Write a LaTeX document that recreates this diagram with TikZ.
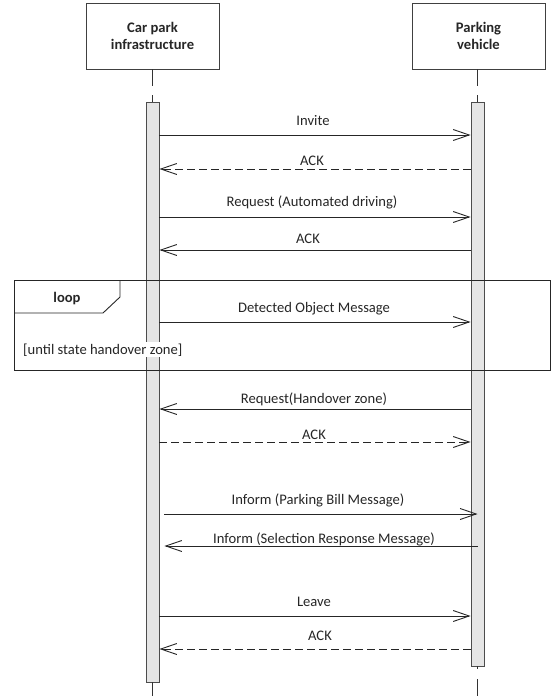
\documentclass[tikz,border=0pt]{standalone}
\usepackage{fontspec}
\setmainfont{Carlito}
\usetikzlibrary{arrows.meta,calc}
\begin{document}
\begin{tikzpicture}[x=1pt,y=-1pt,
  every node/.style={font=\fontsize{14.6}{17}\selectfont, text=black!85},
  lifebox/.style={draw=black!75, line width=0.9pt, minimum width=133pt,
    minimum height=66pt, align=center, inner sep=0pt,
    font=\fontsize{14.6}{17}\selectfont\bfseries},
  bar/.style={draw=black!70, fill=black!10, line width=0.9pt,
    minimum width=13pt, inner sep=0pt},
  lifeline/.style={draw=black!80, line width=0.9pt},
  msg/.style={draw=black!85, line width=0.9pt,
    -{Straight Barb[length=16pt,width=11pt]}},
  reply/.style={msg, dash pattern=on 8pt off 4pt},
  lbl/.style={anchor=base, inner sep=0pt},
  frame/.style={draw=black!85, line width=0.9pt},
]
\useasboundingbox (0,0) rectangle (551,696);

% participants
\node[lifebox] (park) at (152.5,36) {Car park\\infrastructure};
\node[lifebox] (car)  at (478.5,36) {Parking\\vehicle};

% activation bars
\node[bar, minimum height=580pt] (barL) at (152.5,392) {};
\node[bar, minimum height=564pt] (barR) at (477.5,384) {};

% lifelines
\coordinate (endL) at (152.5,696);
\coordinate (endR) at (477.5,696);
\draw[lifeline, dash pattern=on 17pt off 9pt] (park.south) -- (barL.north);
\draw[lifeline, dash pattern=on 17pt off 9pt] (car.south -| barR.north) -- (barR.north);
\draw[lifeline] (barL.south) -- (endL);
\draw[lifeline, dash pattern=on 3pt off 10pt on 40pt off 10pt] (barR.south) -- (endR);

% messages
\draw[msg]   (barL.east |- 0,135) -- (barR.west |- 0,135);
\node[lbl] (m1) at (313,125) {Invite};
\draw[reply] (barR.west |- 0,169) -- (barL.east |- 0,169);
\node[lbl] (m2) at (312,165) {ACK};
\draw[msg]   (barL.east |- 0,217) -- (barR.west |- 0,217);
\node[lbl] (m3) at (312,206) {Request (Automated driving)};
\draw[msg]   (barR.west |- 0,250) -- (barL.east |- 0,250);
\node[lbl] (m4) at (308,243) {ACK};

% loop fragment
\draw[frame] (14,280) rectangle (550,370);
\draw[frame] (14,313) -- (103,313) -- (120,297) -- (120,280);
\node[lbl, font=\fontsize{14.6}{17}\selectfont\bfseries] (looplbl) at (67,302) {loop};
\node[anchor=base west, fill=white, inner sep=1pt] (guard) at (22,354) {[until state handover zone]};
\draw[msg]   (barL.east |- 0,322) -- (barR.west |- 0,322);
\node[lbl] (m5) at (314,312) {Detected Object Message};

\draw[msg]   (barR.west |- 0,409) -- (barL.east |- 0,409);
\node[lbl] (m6) at (314,403) {Request(Handover zone)};
\draw[reply] (barL.east |- 0,442) -- (barR.west |- 0,442);
\node[lbl] (m7) at (314,439) {ACK};
\draw[msg]   ([xshift=5pt]barL.east |- 0,514) -- (barR.center |- 0,514);
\node[lbl] (m8) at (318,504) {Inform (Parking Bill Message)};
\draw[msg]   (barR.center |- 0,546) -- ([xshift=5pt]barL.east |- 0,546);
\node[lbl] (m9) at (324,543) {Inform (Selection Response Message)};
\draw[msg]   (barL.east |- 0,616) -- (barR.west |- 0,616);
\node[lbl] (m10) at (314,606) {Leave};
\draw[reply] (barR.west |- 0,649) -- (barL.east |- 0,649);
\node[lbl] (m11) at (320,640) {ACK};
\end{tikzpicture}
\end{document}
